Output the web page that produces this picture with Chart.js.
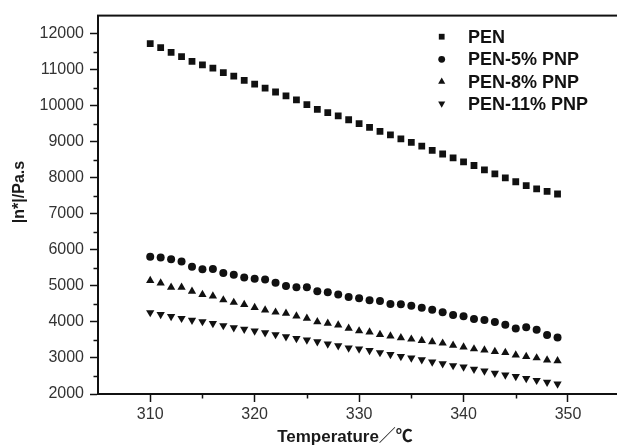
<!DOCTYPE html>
<html>
<head>
<meta charset="utf-8">
<script src="https://cdn.jsdelivr.net/npm/chart.js@4.4.1/dist/chart.umd.min.js"></script>
<style>
  html, body { margin: 0; padding: 0; background: #fff; overflow: hidden; width: 617px; height: 446px; }
  canvas { display: block; }
</style>
</head>
<body>
<canvas id="viscosityChart" width="625" height="446"></canvas>
<script>
// --- Data ---
const temperatures = [310, 311, 312, 313, 314, 315, 316, 317, 318, 319,
                      320, 321, 322, 323, 324, 325, 326, 327, 328, 329,
                      330, 331, 332, 333, 334, 335, 336, 337, 338, 339,
                      340, 341, 342, 343, 344, 345, 346, 347, 348, 349];

const penValues = [11720, 11610, 11480, 11360, 11230, 11130, 11040, 10920, 10820, 10700,
                   10600, 10490, 10380, 10270, 10160, 10030, 9900, 9810, 9720, 9610,
                   9500, 9400, 9290, 9190, 9080, 8980, 8880, 8760, 8660, 8550,
                   8440, 8340, 8220, 8110, 8000, 7890, 7780, 7690, 7620, 7550];

const pen5Values = [5810, 5790, 5740, 5680, 5530, 5460, 5470, 5360, 5310, 5230,
                    5200, 5180, 5090, 5000, 4960, 4960, 4850, 4820, 4760, 4690,
                    4660, 4600, 4580, 4500, 4490, 4450, 4390, 4340, 4270, 4190,
                    4160, 4080, 4050, 4000, 3920, 3820, 3850, 3780, 3640, 3570];

const pen8Values = [5150, 5080, 4960, 4960, 4850, 4760, 4720, 4610, 4540, 4480,
                    4400, 4330, 4270, 4240, 4160, 4100, 4000, 3960, 3910, 3820,
                    3750, 3720, 3650, 3610, 3560, 3520, 3480, 3450, 3410, 3350,
                    3300, 3250, 3220, 3180, 3150, 3080, 3040, 3000, 2940, 2920];

const pen11Values = [4260, 4210, 4150, 4100, 4050, 4010, 3960, 3900, 3840, 3800,
                     3750, 3700, 3650, 3590, 3540, 3500, 3450, 3390, 3340, 3280,
                     3250, 3210, 3150, 3100, 3040, 3000, 2950, 2890, 2840, 2790,
                     2750, 2690, 2640, 2580, 2530, 2490, 2430, 2380, 2330, 2280];

const seriesNames = ['PEN', 'PEN-5% PNP', 'PEN-8% PNP', 'PEN-11% PNP'];

const xTicks = [310, 320, 330, 340, 350];
const xMinorTicks = [315, 325, 335, 345, 355];
const yTicks = [2000, 3000, 4000, 5000, 6000, 7000, 8000, 9000, 10000, 11000, 12000];
const yMinorTicks = [2500, 3500, 4500, 5500, 6500, 7500, 8500, 9500, 10500, 11500];

const xTitle = 'Temperature／℃';
const yTitle = '|n*|/Pa.s';

// --- Styles ---
const FONT = "'Liberation Sans', Arial, 'Noto Sans CJK SC', sans-serif";
const INK = '#111';
const LABEL = '#333';

const markerStyles = [
  { pointStyle: 'rect', radius: 4.8, rotation: 0 },
  { pointStyle: 'circle', radius: 4, rotation: 0 },
  { pointStyle: 'triangle', radius: 4.8, rotation: 0 },
  { pointStyle: 'triangle', radius: 4.8, rotation: 180 }
];

const toPoints = (values) => values.map((v, i) => ({ x: temperatures[i], y: v }));

const makeDataset = (label, values, style) => ({
  label: label,
  data: toPoints(values),
  showLine: false,
  pointStyle: style.pointStyle,
  pointRadius: style.radius,
  pointRotation: style.rotation,
  pointBackgroundColor: INK,
  pointBorderWidth: 0,
  pointHoverRadius: style.radius
});

// --- Extras: frame, minor ticks, legend, axis titles ---
const extrasPlugin = {
  id: 'extras',
  afterDraw(chart) {
    const ctx = chart.ctx;
    const area = chart.chartArea;
    const xs = chart.scales.x;
    const ys = chart.scales.y;

    ctx.save();
    ctx.strokeStyle = INK;
    ctx.lineWidth = 2;
    ctx.strokeRect(area.left, area.top, area.right - area.left, area.bottom - area.top);

    // minor ticks
    ctx.lineWidth = 1.5;
    ctx.beginPath();
    xMinorTicks.forEach(v => {
      const px = Math.round(xs.getPixelForValue(v)) + 0.5;
      ctx.moveTo(px, area.bottom);
      ctx.lineTo(px, area.bottom + 4.5);
    });
    yMinorTicks.forEach(v => {
      const py = Math.round(ys.getPixelForValue(v)) + 0.5;
      ctx.moveTo(area.left, py);
      ctx.lineTo(area.left - 4.5, py);
    });
    ctx.stroke();

    // legend
    const rowY = [36.7, 59.3, 81.6, 103.6];
    ctx.fillStyle = INK;
    ctx.font = 'bold 18px ' + FONT;
    ctx.textBaseline = 'middle';
    ctx.textAlign = 'left';
    seriesNames.forEach((name, i) => {
      const st = markerStyles[i];
      Chart.helpers.drawPoint(ctx, {
        pointStyle: st.pointStyle, radius: st.radius * 0.85, rotation: st.rotation, borderWidth: 0
      }, 441.7, rowY[i]);
      ctx.fillStyle = INK;
      ctx.fillText(name, 468, rowY[i] + 1);
    });

    // axis titles
    ctx.font = 'bold 17px ' + FONT;
    ctx.textAlign = 'center';
    ctx.fillStyle = '#1a1a1a';
    ctx.fillText(xTitle, 345, 437);

    ctx.translate(20, 192);
    ctx.rotate(-Math.PI / 2);
    ctx.font = 'bold 16px ' + FONT;
    ctx.fillText(yTitle, 0, 0);
    ctx.restore();
  }
};

// --- Chart ---
const renderViscosityChart = () => {
  const ctx = document.getElementById('viscosityChart').getContext('2d');
  new Chart(ctx, {
    type: 'scatter',
    data: {
      datasets: [
        makeDataset(seriesNames[0], penValues, markerStyles[0]),
        makeDataset(seriesNames[1], pen5Values, markerStyles[1]),
        makeDataset(seriesNames[2], pen8Values, markerStyles[2]),
        makeDataset(seriesNames[3], pen11Values, markerStyles[3])
      ]
    },
    options: {
      responsive: false,
      animation: false,
      devicePixelRatio: 1,
      layout: { padding: { left: 0, top: 14, right: 4.5, bottom: 0 } },
      plugins: { legend: { display: false }, tooltip: { enabled: false } },
      scales: {
        x: {
          type: 'linear',
          min: 305,
          max: 355,
          afterBuildTicks: (s) => { s.ticks = xTicks.map(v => ({ value: v })); },
          afterFit: (s) => { s.height = 52; },
          ticks: { color: LABEL, font: { family: FONT, size: 16 }, padding: 3, autoSkip: false, maxRotation: 0,
                   callback: (v) => String(v) },
          grid: { display: true, drawOnChartArea: false, drawTicks: true, tickLength: 8, tickColor: INK, tickWidth: 1.5 },
          border: { display: true, color: INK, width: 2 }
        },
        y: {
          type: 'linear',
          min: 2000,
          max: 12500,
          afterBuildTicks: (s) => { s.ticks = yTicks.map(v => ({ value: v })); },
          afterFit: (s) => { s.width = 98; },
          ticks: { color: LABEL, font: { family: FONT, size: 16 }, padding: 6, autoSkip: false,
                   callback: (v) => String(v) },
          grid: { display: true, drawOnChartArea: false, drawTicks: true, tickLength: 8, tickColor: INK, tickWidth: 1.5 },
          border: { display: true, color: INK, width: 2 }
        }
      }
    },
    plugins: [extrasPlugin]
  });
};

renderViscosityChart();
</script>
</body>
</html>
